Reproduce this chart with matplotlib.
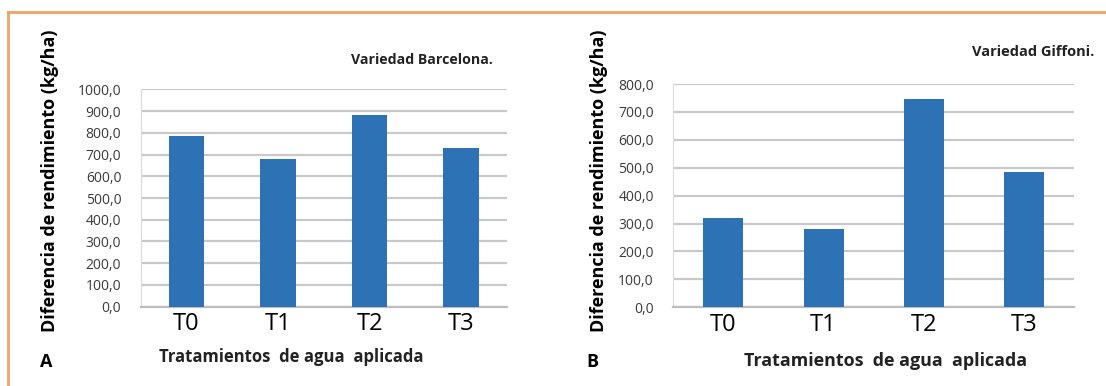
import matplotlib.pyplot as plt
from matplotlib.ticker import FuncFormatter
from matplotlib.lines import Line2D

# yield difference per water treatment, two hazelnut varieties
treatments = ['T0', 'T1', 'T2', 'T3']
barcelona = [785, 681, 883, 731]
giffoni = [321, 279, 745, 485]

bar_color = '#2C72B4'
grid_color = '#C9C9C9'

plt.rcParams['font.family'] = ['Open Sans', 'DejaVu Sans']

W, H = 1106, 386
fig = plt.figure(figsize=(W / 100, H / 100), dpi=100)


def fx(px):
    return px / W


def fy(px):
    return 1 - px / H


# orange frame, top and left edges only
fig.add_artist(Line2D([fx(8), 1], [fy(12), fy(12)], color='#EFA566', lw=2))
fig.add_artist(Line2D([fx(8), fx(8)], [0, fy(12)], color='#EFA566', lw=2))


def comma_fmt(v, pos):
    return f'{v:.1f}'.replace('.', ',')


def draw_panel(box, values, ymax, width, title, title_pos, title_size,
               letter, letter_x, ylab_x, xlab_pos, xlab_size):
    left, top, right, bottom = box
    ax = fig.add_axes([fx(left), fy(bottom), fx(right) - fx(left), fy(top) - fy(bottom)])
    x = range(len(treatments))
    ax.bar(x, values, width=width, color=bar_color, zorder=3)
    ax.set_xlim(-0.5, len(treatments) - 0.5)
    ax.set_ylim(0, ymax)
    ax.set_yticks(range(0, ymax + 1, 100))
    ax.yaxis.set_major_formatter(FuncFormatter(comma_fmt))
    ax.set_xticks(list(x))
    ax.set_xticklabels(treatments, fontsize=17)
    ax.tick_params(axis='y', labelsize=10, labelcolor='#3A3A3A', length=0, pad=14)
    ax.tick_params(axis='x', length=0, pad=4, labelcolor='black')
    ax.grid(axis='y', color=grid_color, lw=1.6, zorder=0)
    for side in ['top', 'right']:
        ax.spines[side].set_visible(False)
    ax.spines['left'].set_color('#DADADA')
    ax.spines['bottom'].set_color('#BDBDBD')
    ax.spines['bottom'].set_linewidth(1.6)

    fig.text(fx(ylab_x), fy(181), 'Diferencia de rendimiento (kg/ha)',
             rotation=90, ha='center', va='center', fontsize=13, fontweight='bold')
    fig.text(fx(title_pos[0]), fy(title_pos[1]), title,
             ha='right', va='center', fontsize=title_size, fontweight='bold', color='#222222')
    fig.text(fx(letter_x), fy(362), letter,
             ha='center', va='center', fontsize=13, fontweight='bold')
    fig.text(fx(xlab_pos[0]), fy(xlab_pos[1]), 'Tratamientos  de agua  aplicada',
             ha='center', va='center', fontsize=xlab_size, fontweight='bold', color='#222222')
    return ax


draw_panel((140.7, 89.3, 507, 306.7), barcelona, 1000, 0.39,
           'Variedad Barcelona.', (493, 60), 10.2,
           'A', 46, 50, (291.5, 357), 12)
draw_panel((673.3, 84, 1074, 307.3), giffoni, 800, 0.40,
           'Variedad Giffoni.', (1094, 52), 10.5,
           'B', 592.5, 598.5, (885.6, 361), 12.9)

fig.savefig('out.png', dpi=100, facecolor='white')
